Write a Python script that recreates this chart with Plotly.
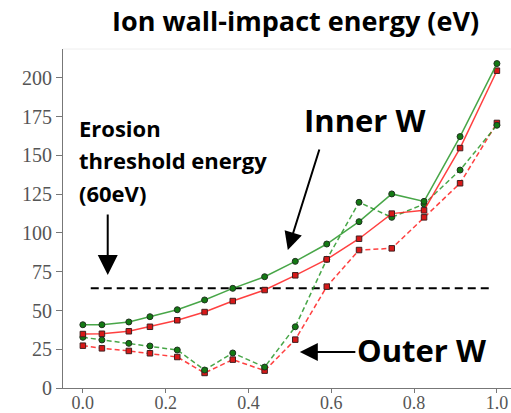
import plotly.graph_objects as go

x = [0.0, 0.046, 0.111, 0.162, 0.228, 0.294, 0.362, 0.439, 0.513, 0.589, 0.667, 0.746, 0.824, 0.911, 1.0]
inner_green = [40.8, 40.8, 42.6, 46.0, 50.5, 56.8, 64.3, 71.8, 81.7, 92.9, 107.3, 125.2, 120.4, 162.2, 209.3]
inner_red = [34.8, 35.0, 36.6, 39.5, 43.7, 49.0, 56.1, 63.2, 72.7, 83.0, 96.3, 112.5, 114.6, 154.8, 204.7]
outer_green = [32.7, 31.0, 28.8, 27.1, 24.5, 11.6, 22.6, 13.5, 39.5, 83.0, 119.8, 110.1, 118.7, 140.6, 169.5]
outer_red = [27.3, 25.6, 23.9, 22.4, 20.0, 9.7, 18.3, 11.2, 31.2, 65.4, 89.0, 90.1, 110.1, 132.1, 171.0]
thr_x = [0.019, 0.985]
thr_y = [64.3, 64.3]
yticks = [0, 25, 50, 75, 100, 125, 150, 175, 200]
xticks = [0.0, 0.2, 0.4, 0.6, 0.8, 1.0]

GL = 'rgba(40,150,40,0.85)'
RL = 'rgba(255,30,30,0.85)'
gm = dict(symbol='circle', size=6, color='#137a13', line=dict(color='#203020', width=1))
rm = dict(symbol='square', size=5.5, color='#d81818', line=dict(color='#402020', width=1))

fig = go.Figure()
fig.add_trace(go.Scatter(x=thr_x, y=thr_y, mode='lines', line=dict(color='black', width=2, dash='8px,5px')))
fig.add_trace(go.Scatter(x=x, y=outer_red, mode='lines+markers', line=dict(color=RL, width=1.5, dash='5px,3px'), marker=rm))
fig.add_trace(go.Scatter(x=x, y=outer_green, mode='lines+markers', line=dict(color=GL, width=1.5, dash='5px,3px'), marker=gm))
fig.add_trace(go.Scatter(x=x, y=inner_red, mode='lines+markers', line=dict(color=RL, width=1.5), marker=rm))
fig.add_trace(go.Scatter(x=x, y=inner_green, mode='lines+markers', line=dict(color=GL, width=1.5), marker=gm))

tickfont = dict(family='Liberation Serif, Times New Roman, serif', size=20, color='#555555')
xtickfont = dict(family='Liberation Serif, Times New Roman, serif', size=18, color='#555555')
fig.update_xaxes(range=[-0.048, 1.034], tickvals=xticks, ticktext=[f'{v:.1f}' for v in xticks],
                 showgrid=False, zeroline=False, showline=True, linecolor='#777777', linewidth=1,
                 ticks='outside', ticklen=4, tickcolor='#777777', tickfont=xtickfont, automargin=False,
                 ticklabelstandoff=-6)
fig.update_yaxes(range=[0, 218.7], tickvals=yticks, showgrid=False, zeroline=False, showline=True,
                 linecolor='#777777', linewidth=1, ticks='outside', ticklen=6, tickcolor='#777777',
                 tickfont=tickfont, automargin=False)

bold = 'Open Sans'
ann = []
ann.append(dict(x=0.060, y=72.9, ax=0, ay=-62, xref='x', yref='y', text='', showarrow=True,
                arrowhead=2, arrowsize=2, arrowwidth=2, arrowcolor='black'))
ann.append(dict(x=0.495, y=89.0, ax=32, ay=-102, xref='x', yref='y', text='', showarrow=True,
                arrowhead=2, arrowsize=1.8, arrowwidth=2, arrowcolor='black'))
ann.append(dict(x=0.524, y=23.2, ax=57, ay=0, xref='x', yref='y', text='', showarrow=True,
                arrowhead=2, arrowsize=1.8, arrowwidth=2, arrowcolor='black'))
for txt, py in [('Erosion', 128), ('threshold energy', 160), ('(60eV)', 193)]:
    ann.append(dict(x=77, y=py, text=f'<b>{txt}</b>', showarrow=False, xanchor='left', yanchor='middle',
                    font=dict(family=bold, size=22, color='black')))
ann.append(dict(x=302, y=120, text='<b>Inner W</b>', showarrow=False, xanchor='left', yanchor='middle',
                font=dict(family=bold, size=31, color='black')))
ann.append(dict(x=355, y=350, text='<b>Outer W</b>', showarrow=False, xanchor='left', yanchor='middle',
                font=dict(family=bold, size=31, color='black')))
ann.append(dict(x=295, y=20, text='<b>Ion wall-impact energy (eV)</b>', showarrow=False, xanchor='center', yanchor='middle',
                font=dict(family=bold, size=27, color='black')))

# convert pixel-positioned text annotations to paper coords
W, H = 511, 413
L, R, T, B = 63, 0, 49, 25
pw, ph = W - L - R, H - T - B
for a in ann:
    if a.get('text') and a.get('xref') != 'x':
        px, py = a['x'], a['y']
        a['xref'] = 'paper'; a['yref'] = 'paper'
        a['x'] = (px - L) / pw
        a['y'] = (H - B - py) / ph
fig.update_layout(annotations=ann)

fig.update_layout(width=W, height=H, margin=dict(l=L, r=R, t=T, b=B), showlegend=False,
                  plot_bgcolor='white', paper_bgcolor='white')
fig.add_shape(type='line', xref='paper', yref='paper', x0=0, x1=1, y0=1, y1=1,
              line=dict(color='#eeeeee', width=1))
fig.write_html('out.html')
